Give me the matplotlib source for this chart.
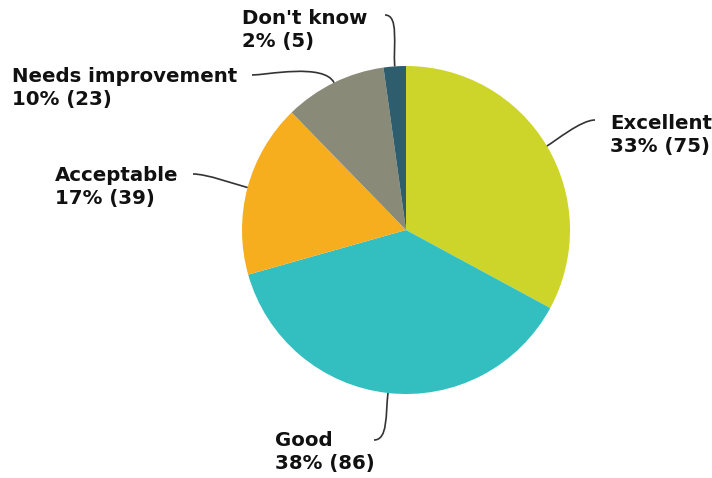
import numpy as np
import matplotlib.pyplot as plt
from matplotlib.path import Path
from matplotlib.patches import PathPatch

plt.rcParams['font.family'] = ['DejaVu Sans']

labels = ['Excellent', 'Good', 'Acceptable', 'Needs improvement', "Don't know"]
counts = [75, 86, 39, 23, 5]
colors = ['#cdd42a', '#33bec0', '#f6ae1f', '#8a8a78', '#2e5e6e']

# label anchors (left edge, vertical centre) and leader end points, in pixels with y up
text_pos = [(610, 343), (275, 26), (55, 291), (12, 390), (242, 448)]
leader_end = [(595, 358), (374, 38), (193, 304), (252, 403), (385, 463)]
leader_out = [10, 22, 14, 22, 22]

center = (406, 248)
radius = 164

fig = plt.figure(figsize=(7.12, 4.78), dpi=100)
ax = fig.add_axes([0, 0, 1, 1])

wedges, _ = ax.pie(counts, colors=colors, startangle=90, counterclock=False,
                   center=center, radius=radius,
                   wedgeprops=dict(linewidth=0, antialiased=True))
# pie() resets the limits, so set them afterwards
ax.set_xlim(0, 712)
ax.set_ylim(0, 478)
ax.set_aspect('equal')
ax.axis('off')

total = sum(counts)
for w, lab, n, tp, le, out in zip(wedges, labels, counts, text_pos, leader_end, leader_out):
    mid = np.deg2rad((w.theta1 + w.theta2) / 2)
    d = np.array([np.cos(mid), np.sin(mid)])
    p0 = np.array(center) + d * radius
    p1 = p0 + d * out
    p3 = np.array(le, dtype=float)
    side = 1 if tp[0] > p3[0] else -1
    p2 = p3 - np.array([side * 14, 0])
    path = Path([p0, p1, p2, p3], [Path.MOVETO, Path.CURVE4, Path.CURVE4, Path.CURVE4])
    ax.add_patch(PathPatch(path, facecolor='none', edgecolor='#333333', lw=1.2))
    pct = round(n / total * 100)
    ax.text(tp[0], tp[1], f'{lab}\n{pct}% ({n})', ha='left', va='center',
            fontsize=14.2, fontweight='bold', color='#111111', linespacing=1.27)

fig.savefig('out.png', dpi=100)
